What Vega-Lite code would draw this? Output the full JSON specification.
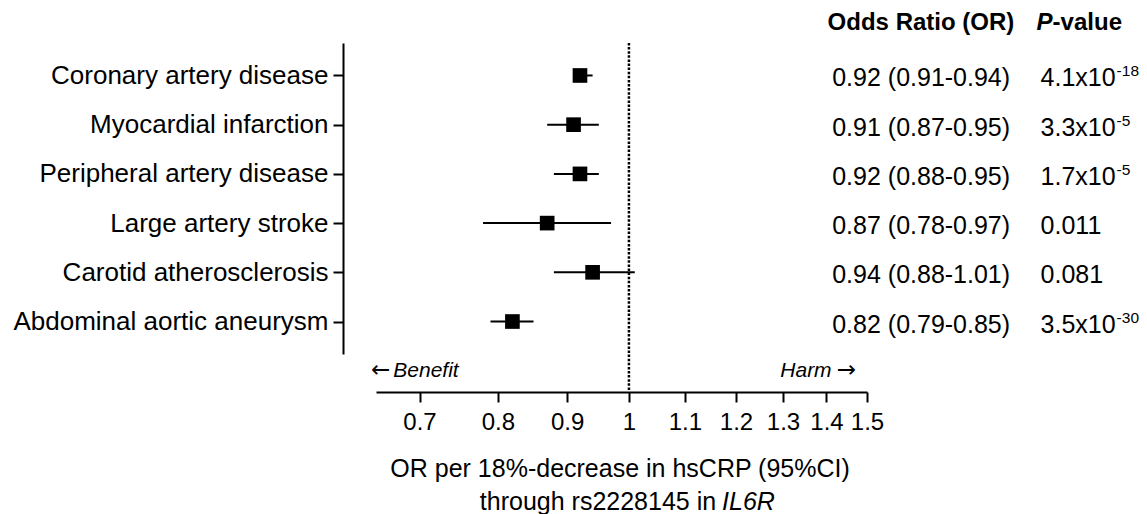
{
  "$schema": "https://vega.github.io/schema/vega-lite/v6.json",
  "width": 491,
  "height": 311,
  "autosize": "none",
  "padding": {"left": 376, "top": 43, "right": 280, "bottom": 160},
  "background": "white",
  "config": {
    "view": {"stroke": null},
    "font": "Liberation Sans",
    "text": {"font": "Liberation Sans", "color": "black"}
  },
  "resolve": {"scale": {"y": "independent"}, "axis": {"y": "independent"}},
  "layer": [
    {
      "data": {"values": [
        {"outcome": "Coronary artery disease", "or": 0.92, "lo": 0.91, "hi": 0.94, "ci": "0.92 (0.91-0.94)", "p": "4.1x10", "pexp": "-18"},
        {"outcome": "Myocardial infarction", "or": 0.91, "lo": 0.87, "hi": 0.95, "ci": "0.91 (0.87-0.95)", "p": "3.3x10", "pexp": "-5"},
        {"outcome": "Peripheral artery disease", "or": 0.92, "lo": 0.88, "hi": 0.95, "ci": "0.92 (0.88-0.95)", "p": "1.7x10", "pexp": "-5"},
        {"outcome": "Large artery stroke", "or": 0.87, "lo": 0.78, "hi": 0.97, "ci": "0.87 (0.78-0.97)", "p": "0.011", "pexp": ""},
        {"outcome": "Carotid atherosclerosis", "or": 0.94, "lo": 0.88, "hi": 1.01, "ci": "0.94 (0.88-1.01)", "p": "0.081", "pexp": ""},
        {"outcome": "Abdominal aortic aneurysm", "or": 0.82, "lo": 0.79, "hi": 0.85, "ci": "0.82 (0.79-0.85)", "p": "3.5x10", "pexp": "-30"}
      ]},
      "encoding": {
        "y": {
          "field": "outcome", "type": "nominal", "sort": null,
          "scale": {"type": "point", "padding": 0.66},
          "axis": {
            "title": null, "offset": 33, "domainColor": "black", "domainWidth": 2,
            "tickColor": "black", "tickWidth": 2, "tickSize": 10,
            "labelFont": "Liberation Sans", "labelFontSize": 26, "labelColor": "black",
            "labelPadding": 5, "labelLimit": 500, "grid": false
          }
        }
      },
      "layer": [
        {
          "mark": {"type": "rule", "strokeWidth": 2, "color": "black"},
          "encoding": {
            "x": {
              "field": "lo", "type": "quantitative",
              "scale": {"type": "log", "domain": [0.65, 1.5], "nice": false},
              "axis": {
                "title": null, "offset": 38, "values": [0.7, 0.8, 0.9, 1, 1.1, 1.2, 1.3, 1.4, 1.5],
                "format": "~g", "domainColor": "black", "domainWidth": 2,
                "tickColor": "black", "tickWidth": 2, "tickSize": 10,
                "labelFont": "Liberation Sans", "labelFontSize": 24, "labelColor": "black",
                "labelPadding": 8, "labelOverlap": false, "labelFlush": false, "grid": false
              }
            },
            "x2": {"field": "hi"}
          }
        },
        {
          "mark": {"type": "point", "shape": "square", "filled": true, "size": 215, "color": "black", "opacity": 1},
          "encoding": {"x": {"field": "or", "type": "quantitative"}}
        },
        {
          "mark": {"type": "text", "align": "left", "baseline": "middle", "fontSize": 25, "dy": 3},
          "encoding": {"x": {"datum": 1.4137, "type": "quantitative"}, "text": {"field": "ci"}}
        },
        {
          "mark": {"type": "text", "align": "left", "baseline": "middle", "fontSize": 25, "dy": 3},
          "encoding": {"x": {"datum": 2.0161, "type": "quantitative"}, "text": {"field": "p"}}
        },
        {
          "mark": {"type": "text", "align": "left", "baseline": "middle", "fontSize": 15.5, "dy": -4, "dx": 76},
          "encoding": {"x": {"datum": 2.0161, "type": "quantitative"}, "text": {"field": "pexp"}}
        }
      ]
    },
    {
      "encoding": {
        "y": {"type": "quantitative", "scale": {"domain": [0, 1], "nice": false, "zero": false}, "axis": null}
      },
      "layer": [
        {
          "data": {"values": [{}]},
          "mark": {"type": "rule", "color": "black", "strokeWidth": 2.5, "strokeDash": [2.5, 1.6]},
          "encoding": {
            "x": {"datum": 1, "type": "quantitative"},
            "y": {"datum": 1, "type": "quantitative"},
            "y2": {"datum": -0.1206}
          }
        },
        {
          "data": {"values": [{"t": "←"}]},
          "mark": {"type": "text", "align": "left", "baseline": "middle", "fontSize": 23, "font": "DejaVu Sans"},
          "encoding": {
            "x": {"datum": 0.6444, "type": "quantitative"},
            "y": {"datum": -0.053, "type": "quantitative"},
            "text": {"field": "t"}
          }
        },
        {
          "data": {"values": [{"t": "Benefit"}]},
          "mark": {"type": "text", "align": "left", "baseline": "middle", "fontSize": 21, "fontStyle": "italic"},
          "encoding": {
            "x": {"datum": 0.6694, "type": "quantitative"},
            "y": {"datum": -0.055, "type": "quantitative"},
            "text": {"field": "t"}
          }
        },
        {
          "data": {"values": [{"t": "Harm"}]},
          "mark": {"type": "text", "align": "right", "baseline": "middle", "fontSize": 21, "fontStyle": "italic"},
          "encoding": {
            "x": {"datum": 1.4123, "type": "quantitative"},
            "y": {"datum": -0.055, "type": "quantitative"},
            "text": {"field": "t"}
          }
        },
        {
          "data": {"values": [{"t": "→"}]},
          "mark": {"type": "text", "align": "right", "baseline": "middle", "fontSize": 23, "font": "DejaVu Sans"},
          "encoding": {
            "x": {"datum": 1.472, "type": "quantitative"},
            "y": {"datum": -0.053, "type": "quantitative"},
            "text": {"field": "t"}
          }
        },
        {
          "data": {"values": [{"t": "Odds Ratio (OR)"}]},
          "mark": {"type": "text", "align": "left", "baseline": "middle", "fontSize": 24, "fontWeight": "bold"},
          "encoding": {
            "x": {"datum": 1.4027, "type": "quantitative"},
            "y": {"datum": 1.063, "type": "quantitative"},
            "text": {"field": "t"}
          }
        },
        {
          "data": {"values": [{"t": "P"}]},
          "mark": {"type": "text", "align": "left", "baseline": "middle", "fontSize": 24, "fontWeight": "bold", "fontStyle": "italic"},
          "encoding": {
            "x": {"datum": 2.0024, "type": "quantitative"},
            "y": {"datum": 1.063, "type": "quantitative"},
            "text": {"field": "t"}
          }
        },
        {
          "data": {"values": [{"t": "-value"}]},
          "mark": {"type": "text", "align": "left", "baseline": "middle", "fontSize": 24, "fontWeight": "bold", "dx": 16},
          "encoding": {
            "x": {"datum": 2.0024, "type": "quantitative"},
            "y": {"datum": 1.063, "type": "quantitative"},
            "text": {"field": "t"}
          }
        },
        {
          "data": {"values": [{"t": "OR per 18%-decrease in hsCRP (95%CI)"}]},
          "mark": {"type": "text", "align": "center", "baseline": "middle", "fontSize": 25},
          "encoding": {
            "x": {"datum": 0.985, "type": "quantitative"},
            "y": {"datum": -0.37, "type": "quantitative"},
            "text": {"field": "t"}
          }
        },
        {
          "data": {"values": [{"t": "through rs2228145 in"}]},
          "mark": {"type": "text", "align": "right", "baseline": "middle", "fontSize": 25, "dx": -6},
          "encoding": {
            "x": {"datum": 1.172, "type": "quantitative"},
            "y": {"datum": -0.476, "type": "quantitative"},
            "text": {"field": "t"}
          }
        },
        {
          "data": {"values": [{"t": "IL6R"}]},
          "mark": {"type": "text", "align": "left", "baseline": "middle", "fontSize": 25, "fontStyle": "italic"},
          "encoding": {
            "x": {"datum": 1.172, "type": "quantitative"},
            "y": {"datum": -0.476, "type": "quantitative"},
            "text": {"field": "t"}
          }
        }
      ]
    }
  ]
}
